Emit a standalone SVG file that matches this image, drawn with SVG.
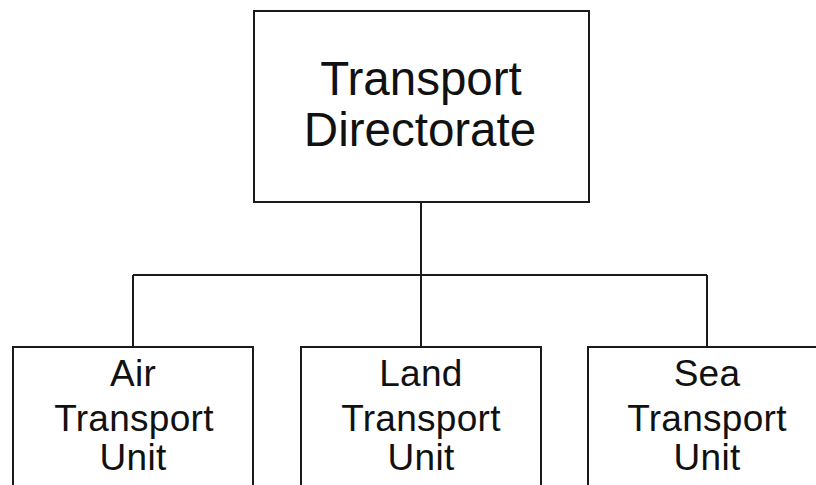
<svg xmlns="http://www.w3.org/2000/svg" width="816" height="485" viewBox="0 0 816 485">
  <style>
    .box { fill: #ffffff; stroke: #1a1a1a; stroke-width: 2; }
    .link { fill: none; stroke: #1a1a1a; stroke-width: 2; }
    .label { font-family: "Liberation Sans", Arial, sans-serif; fill: #111111; text-anchor: middle; }
    .big { font-size: 47.5px; }
    .small { font-size: 37px; letter-spacing: 0.3px; }
  </style>
  <rect width="816" height="485" fill="#ffffff"/>

  <!-- tree connectors -->
  <g id="connectors">
    <path class="link" d="M421 202 V275"/>
    <path class="link" d="M133 275 H707"/>
    <path class="link" d="M133 275 V347"/>
    <path class="link" d="M421 275 V347"/>
    <path class="link" d="M707 275 V347"/>
  </g>

  <g id="transport-directorate">
    <rect class="box" x="254" y="11" width="335" height="191"/>
    <text class="label big" x="421" y="95">Transport</text>
    <text class="label big" x="420" y="146">Directorate</text>
  </g>

  <g id="air-transport-unit">
    <rect class="box" x="13" y="347" width="240" height="160"/>
    <text class="label small" x="133" y="386">Air</text>
    <text class="label small" x="134" y="431">Transport</text>
    <text class="label small" x="133" y="470">Unit</text>
  </g>

  <g id="land-transport-unit">
    <rect class="box" x="301" y="347" width="240" height="160"/>
    <text class="label small" x="421" y="386">Land</text>
    <text class="label small" x="421" y="431">Transport</text>
    <text class="label small" x="421" y="470">Unit</text>
  </g>

  <g id="sea-transport-unit">
    <rect class="box" x="588" y="347" width="240" height="160"/>
    <text class="label small" x="707" y="386">Sea</text>
    <text class="label small" x="707" y="431">Transport</text>
    <text class="label small" x="707" y="470">Unit</text>
  </g>
</svg>
